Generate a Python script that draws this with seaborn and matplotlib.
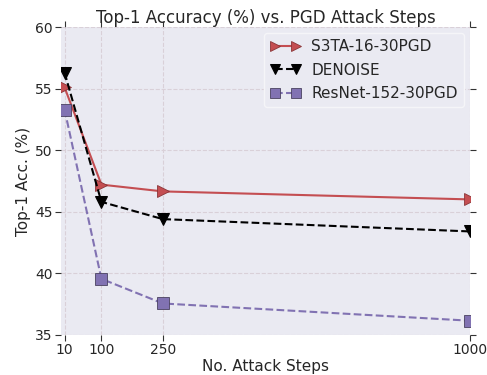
import matplotlib
matplotlib.use("Agg")
import matplotlib.pyplot as plt
import seaborn as sns

steps = [10, 100, 250, 1000]
s3ta = [55.1, 47.2, 46.65, 46.0]
denoise = [56.3, 45.8, 44.4, 43.4]
resnet = [53.3, 39.55, 37.55, 36.15]

sns.set_style("darkgrid", {"grid.linestyle": "--", "grid.color": "#d9d0d8",
                           "xtick.direction": "out", "ytick.direction": "out"})
plt.rcParams['font.family'] = ['DejaVu Sans']

fig = plt.figure(figsize=(4.87, 3.75), dpi=100)
ax = fig.add_axes([0.125, 0.107, 0.84, 0.821])

sns.lineplot(x=steps, y=s3ta, ax=ax, color="#C44E52", marker=">", markersize=8,
             markeredgecolor="#8a3538", markeredgewidth=0.6, linestyle="-",
             linewidth=1.5, label="S3TA-16-30PGD")
sns.lineplot(x=steps, y=denoise, ax=ax, color="black", marker="v", markersize=8,
             markeredgecolor="black", linestyle="--", linewidth=1.5,
             label="DENOISE")
sns.lineplot(x=steps, y=resnet, ax=ax, color="#8172B2", marker="s", markersize=8,
             markeredgecolor="#4a4260", markeredgewidth=0.6, linestyle="--",
             linewidth=1.5, label="ResNet-152-30PGD")

ax.set_xlim(1, 1000)
ax.set_ylim(35, 60)
ax.set_xticks(steps)
ax.set_yticks([35, 40, 45, 50, 55, 60])
ax.tick_params(axis="both", which="both", direction="out", length=4, width=0.8,
               color="#333333", labelsize=10, labelcolor="#262626",
               top=True, right=True, bottom=True, left=True, pad=2)
for s in ax.spines.values():
    s.set_visible(False)

ax.set_title("Top-1 Accuracy (%) vs. PGD Attack Steps", fontsize=12, color="#262626", pad=3)
ax.set_xlabel("No. Attack Steps", fontsize=11, color="#262626", labelpad=1)
ax.set_ylabel("Top-1 Acc. (%)", fontsize=11, color="#262626", labelpad=3)

leg = ax.legend(loc="upper right", fontsize=11, frameon=True, facecolor="#EAEAF2",
                edgecolor="#f5f5f8", framealpha=1, borderaxespad=0.4,
                handlelength=2.0, numpoints=2, markerscale=0.85, borderpad=0.4,
                labelspacing=0.55, handletextpad=0.7)

fig.savefig("out.png", dpi=100)
